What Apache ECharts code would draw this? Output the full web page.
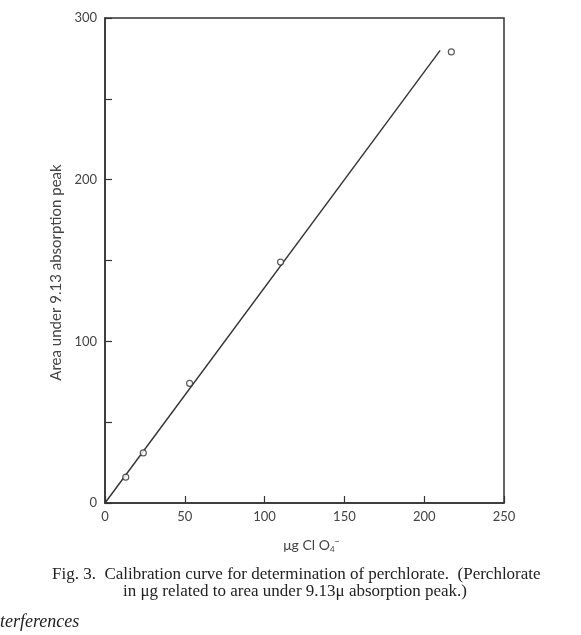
<!DOCTYPE html>
<html>
<head>
<meta charset="utf-8">
<script src="https://cdn.jsdelivr.net/npm/echarts@6/dist/echarts.min.js"></script>
<style>
  html, body { margin: 0; padding: 0; background: #fff; }
  #chart { width: 581px; height: 635px; }
</style>
</head>
<body>
<div id="chart"></div>
<script>
// measured points (µg ClO4- vs area)
const pointsX = [13, 24, 53, 110, 217];
const pointsY = [16, 31, 74, 149, 279];
// fitted calibration line end points
const lineX = [0, 210];
const lineY = [0, 280];
const yLabelsShown = [0, 100, 200, 300];

const ink = '#333';
const textColor = '#444';

const chart = echarts.init(document.getElementById('chart'));

const option = {
  backgroundColor: '#fff',
  animation: false,
  grid: {
    left: 105,
    right: 77,
    top: 18,
    bottom: 132,
    show: true,
    borderColor: ink,
    borderWidth: 1.5,
  },
  xAxis: {
    type: 'value',
    min: 0,
    max: 250,
    interval: 50,
    name: '{m|μg Cl O}{s|4}{p|−}',
    nameLocation: 'middle',
    nameGap: 34,
    nameTextStyle: {
      padding: [0, 0, 0, 14],
      rich: {
        m: { fontFamily: 'Lato', fontSize: 14, color: textColor },
        s: { fontFamily: 'Lato', fontSize: 8, color: textColor, padding: [8, 0, 0, 0] },
        p: { fontFamily: 'Lato', fontSize: 9, color: textColor, padding: [0, 0, 6, 0] },
      },
    },
    axisLine: { lineStyle: { color: ink, width: 1.5 } },
    axisTick: { inside: true, length: 7, lineStyle: { color: ink, width: 1.2 } },
    axisLabel: { color: textColor, fontFamily: 'Lato', fontSize: 13, margin: 7 },
    splitLine: { show: false },
  },
  yAxis: {
    type: 'value',
    min: 0,
    max: 300,
    interval: 50,
    name: 'Area under 9.13 absorption peak',
    nameLocation: 'middle',
    nameGap: 36,
    nameTextStyle: { color: textColor, fontFamily: 'Lato', fontSize: 15, padding: [0, 24, 0, 0] },
    axisLine: { lineStyle: { color: ink, width: 1.5 } },
    axisTick: { inside: true, length: 7, lineStyle: { color: ink, width: 1.2 } },
    axisLabel: {
      color: textColor,
      fontFamily: 'Lato',
      fontSize: 13,
      margin: 8,
      formatter: v => (yLabelsShown.includes(v) ? String(v) : ''),
    },
    splitLine: { show: false },
  },
  series: [
    {
      type: 'line',
      data: lineX.map((x, i) => [x, lineY[i]]),
      showSymbol: false,
      lineStyle: { color: ink, width: 1.4 },
      z: 2,
    },
    {
      type: 'scatter',
      data: pointsX.map((x, i) => [x, pointsY[i]]),
      symbol: 'circle',
      symbolSize: 6,
      itemStyle: { color: '#fff', borderColor: ink, borderWidth: 1.2 },
      z: 3,
    },
  ],
  graphic: [
    {
      type: 'text',
      left: 52,
      top: 566,
      style: {
        text: 'Fig. 3.  Calibration curve for determination of perchlorate.  (Perchlorate',
        font: '17px "Liberation Serif"',
        fill: '#222',
      },
    },
    {
      type: 'text',
      left: 123,
      top: 583,
      style: {
        text: 'in μg related to area under 9.13μ absorption peak.)',
        font: '17px "Liberation Serif"',
        fill: '#222',
      },
    },
    {
      type: 'text',
      left: 0,
      top: 613,
      style: {
        text: 'terferences',
        font: 'italic 18px "Liberation Serif"',
        fill: '#222',
      },
    },
  ],
};

chart.setOption(option);
</script>
</body>
</html>
